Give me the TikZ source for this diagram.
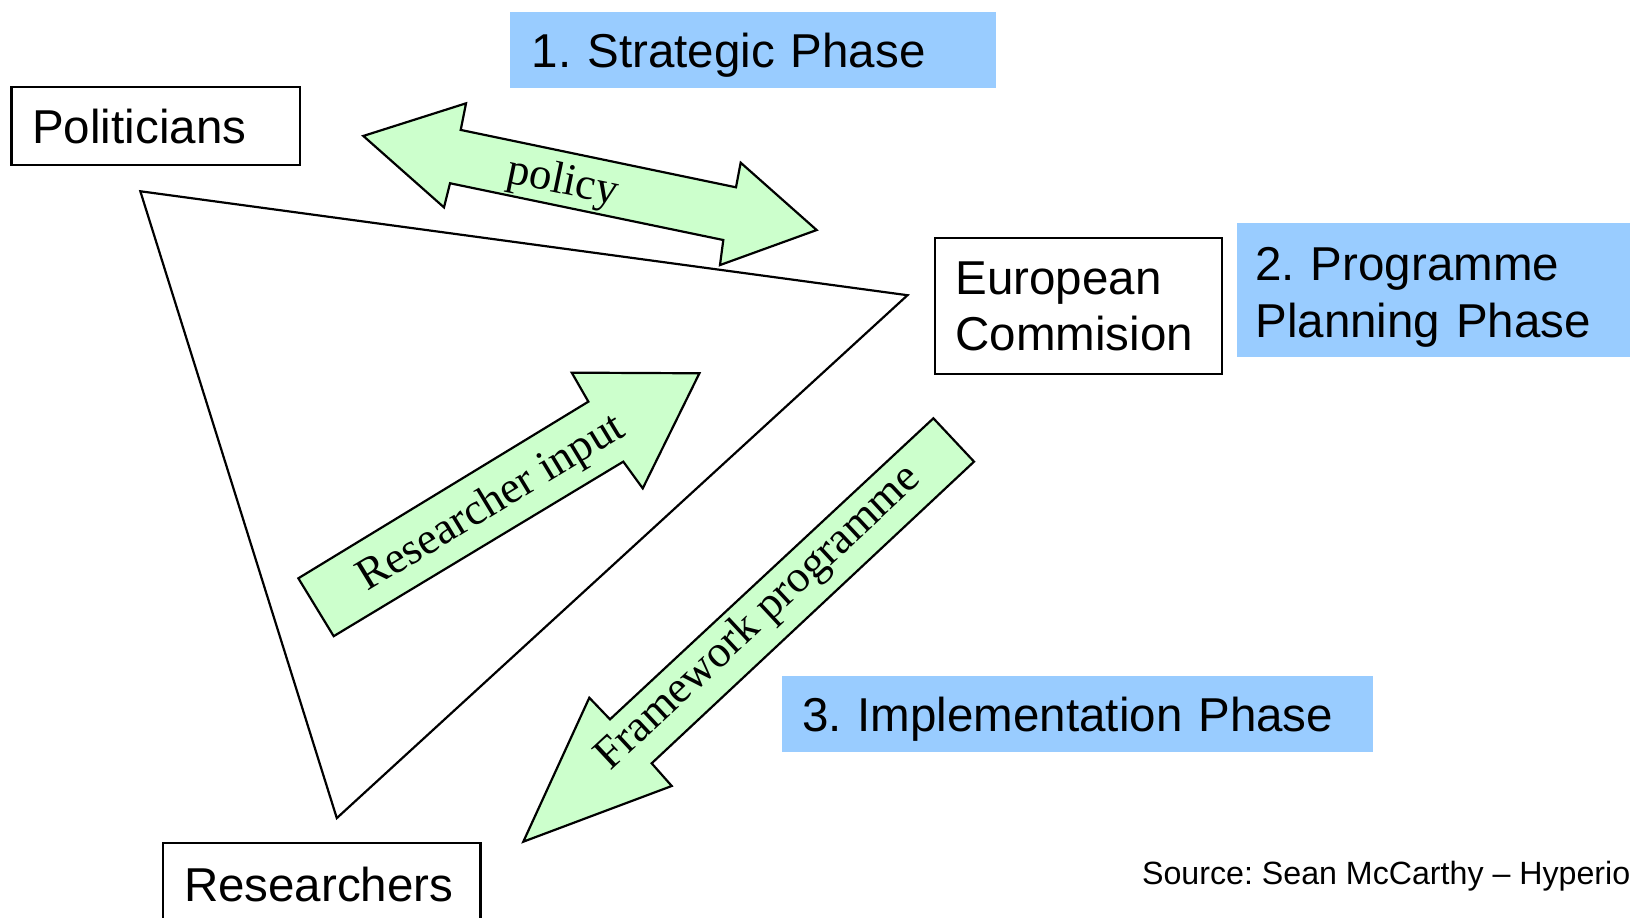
\documentclass[tikz,border=0pt]{standalone}
\usepackage{fontspec}
\setmainfont{Liberation Serif}
\setsansfont{Liberation Sans}
\usepackage{tikz}
\definecolor{phaseblue}{HTML}{99CCFF}
\definecolor{arrowgreen}{HTML}{CCFFCC}
\newcommand{\boxfont}{\sffamily\fontsize{13}{15.4}\selectfont}
\frenchspacing

\begin{document}
\begin{tikzpicture}[x = 0.01cm, y = -0.01cm,
    actor/.style = {draw, line width = 0.6pt, font = \boxfont, align = left,
        inner xsep = 0.2cm, inner ysep = 0pt, anchor = north west},
    phase/.style = {fill = phaseblue, font = \boxfont, align = left,
        inner ysep = 0pt, anchor = north west},
    flow/.style = {draw, line width = 0.6pt, fill = arrowgreen},
    flowlabel/.style = {font = \fontsize{12.3}{14}\selectfont}]
            \path[use as bounding box, clip] (0,0) rectangle (1568,883);

            % triangle between the three actors
            \draw[line width = 0.6pt] (135,184) -- (873,284) -- (324,787) -- cycle;

            % actors
            \node[actor, text width = 2.37cm, minimum height = 0.75cm] (pol) at (10,83) {Politicians};
            \node[actor, text width = 2.36cm, minimum height = 1.31cm] (ec) at (898,228) {European\\Commision};
            \node[actor, text width = 2.65cm, minimum height = 0.8cm] (res) at (156,810) {Researchers};

            % phases
            \node[phase, text depth = 0pt, inner xsep = 0.21cm, text width = 4.25cm, minimum height = 0.73cm] (ph1) at (490,11) {1. Strategic Phase};
            \node[phase, inner xsep = 0.18cm, text width = 3.84cm, minimum height = 1.29cm] (ph2) at (1189,214) {\rule{0pt}{13pt}2. Programme\\Planning Phase};
            \node[phase, text depth = 0pt, inner xsep = 0.19cm, text width = 5.30cm, minimum height = 0.73cm] (ph3) at (752,650) {3. Implementation Phase};

            % policy
            \draw[flow] (349.5,130.8) -- (448.3,99.4) -- (443.2,125) -- (708,180.2) -- (712.5,156.5) -- (785.6,221.3) -- (692.6,255) -- (695.8,230.9) -- (432.9,176.3) -- (427.1,199.5) -- cycle;
            \node[flowlabel, rotate = -11.7] (policy) at (541,176) {policy};

            % researcher input
            \draw[flow] (287,556.3) -- (566,386.4) -- (550,358.5) -- (672.8,359.1) -- (618.3,469.8) -- (599.6,444.1) -- (321,612) -- cycle;
            \node[flowlabel, rotate = 31.2] (input) at (473,485) {Researcher input};

            % framework programme
            \draw[flow] (897.9,402.4) -- (937,444.1) -- (626.9,734.3) -- (646.2,756.1) -- (503.4,809.7) -- (566.9,671.2) -- (586.8,692) -- cycle;
            \node[flowlabel, rotate = 43] (fp) at (730,595) {Framework programme};

            \node[anchor = west, inner sep = 0pt, font = \sffamily\fontsize{8.8}{10}\selectfont] (src) at (1098,843) {Source: Sean McCarthy – Hyperion};

        \end{tikzpicture}
\end{document}
